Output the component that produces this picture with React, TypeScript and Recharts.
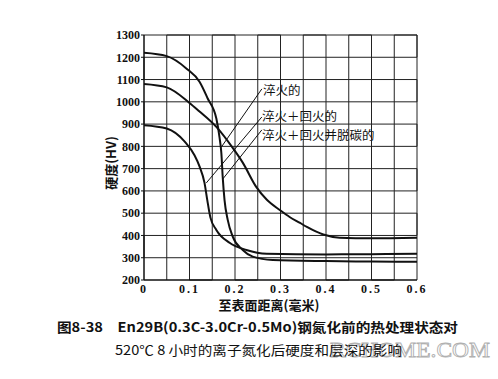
import React from 'react';
import { LineChart, Line, XAxis, YAxis, ReferenceLine } from 'recharts';

// 淬火的
const quenchedX = [0, 0.05, 0.093, 0.122, 0.14, 0.159, 0.166, 0.17, 0.173, 0.177, 0.184, 0.195, 0.217, 0.239, 0.283, 0.4, 0.5, 0.6];
const quenchedY = [1220, 1205, 1150, 1090, 1015, 925, 840, 770, 662, 559, 470, 395, 335, 305, 290, 285, 283, 282];
// 淬火+回火的
const temperedX = [0, 0.05, 0.1, 0.12, 0.16, 0.195, 0.217, 0.247, 0.27, 0.3, 0.32, 0.343, 0.358, 0.394, 0.43, 0.5, 0.6];
const temperedY = [1080, 1065, 995, 960, 885, 793, 727, 617, 560, 512, 483, 456, 438, 404, 390, 387, 390];
// 淬火+回火并脱碳的
const decarbX = [0, 0.05, 0.09, 0.111, 0.122, 0.133, 0.139, 0.146, 0.159, 0.188, 0.225, 0.27, 0.4, 0.5, 0.6];
const decarbY = [895, 880, 820, 760, 710, 636, 560, 480, 425, 367, 335, 318, 315, 316, 318];

const xTicks = [0, 0.1, 0.2, 0.3, 0.4, 0.5, 0.6];
const xGrid = [0.05, 0.1, 0.15, 0.2, 0.25, 0.3, 0.35, 0.4, 0.45, 0.5, 0.55, 0.6];
const yTicks = [200, 300, 400, 500, 600, 700, 800, 900, 1000, 1100, 1200, 1300];
const yGrid = [1300, 1200, 1100, 1000, 900, 800, 700, 600, 500, 400, 300];

const seriesLabels = ['淬火的', '淬火＋回火的', '淬火＋回火并脱碳的'];
// leader lines: [label end, curve end] in data units
const leaderFrom = [[0.259, 1058], [0.259, 932], [0.259, 874]];
const leaderTo = [[0.170, 797], [0.137, 636], [0.173, 653]];

const toPts = (xs: number[], ys: number[]) => xs.map((x, i) => ({ x, y: ys[i] }));

// grid drawn as two serpentine paths (joins run along the frame)
const buildHGrid = () => {
  const pts: { x: number; y: number }[] = [];
  yGrid.forEach((v, i) => {
    if (i % 2 === 0) pts.push({ x: 0, y: v }, { x: 0.6, y: v });
    else pts.push({ x: 0.6, y: v }, { x: 0, y: v });
  });
  return pts;
};
const buildVGrid = () => {
  const pts: { x: number; y: number }[] = [];
  xGrid.forEach((v, i) => {
    if (i % 2 === 0) pts.push({ x: v, y: 200 }, { x: v, y: 1300 });
    else pts.push({ x: v, y: 1300 }, { x: v, y: 200 });
  });
  return pts;
};

const serif = "'Liberation Serif', 'DejaVu Serif', 'Noto Sans CJK SC', serif";
const cjk = "'Noto Sans CJK SC', 'Liberation Serif', serif";

export default function App() {
  const series = [toPts(quenchedX, quenchedY), toPts(temperedX, temperedY), toPts(decarbX, decarbY)];
  const grids = [buildHGrid(), buildVGrid()];
  return (
    <div style={{ position: 'absolute', left: 0, top: 0, width: 498, height: 379, background: '#fff' }}>
      <LineChart width={498} height={379} margin={{ top: 35, right: 81, bottom: 79, left: 99 }}>
        <XAxis
          type="number"
          dataKey="x"
          domain={[0, 0.6]}
          ticks={xTicks}
          height={20}
          axisLine={{ stroke: '#111', strokeWidth: 1.5 }}
          tickLine={false}
          tickSize={0}
          tickMargin={4}
          tick={{ fill: '#111', fontSize: 12, fontFamily: serif, fontWeight: 'bold', letterSpacing: 2 }}
          tickFormatter={(v: number) => (v === 0 ? '0' : v.toFixed(1))}
        />
        <YAxis
          type="number"
          dataKey="y"
          domain={[200, 1300]}
          ticks={yTicks}
          width={45}
          axisLine={{ stroke: '#111', strokeWidth: 1.5 }}
          tickLine={{ stroke: '#111' }}
          tickSize={3}
          tickMargin={1}
          tick={{ fill: '#111', fontSize: 12, fontFamily: serif, fontWeight: 'bold' }}
        />
        {grids.map((d, i) => (
          <Line
            key={'g' + i}
            data={d}
            dataKey="y"
            type="linear"
            stroke="#222"
            strokeWidth={1}
            dot={false}
            activeDot={false}
            isAnimationActive={false}
          />
        ))}
        {series.map((d, i) => (
          <Line
            key={'c' + i}
            data={d}
            dataKey="y"
            type="monotone"
            stroke="#111"
            strokeWidth={2}
            dot={false}
            activeDot={false}
            isAnimationActive={false}
          />
        ))}
        {leaderFrom.map((f, i) => (
          <ReferenceLine
            key={'l' + i}
            segment={[{ x: f[0], y: f[1] }, { x: leaderTo[i][0], y: leaderTo[i][1] }]}
            stroke="#111"
            strokeWidth={1}
          />
        ))}
        <g>
          <rect x={261} y={84} width={45} height={13} fill="#fff" />
          <rect x={261} y={111} width={82} height={11} fill="#fff" />
          <rect x={261} y={129} width={112} height={13} fill="#fff" />
          <text x={263} y={95} fontSize={12.5} fontFamily={cjk} fill="#111">{seriesLabels[0]}</text>
          <text x={262} y={121} fontSize={12.5} fontFamily={cjk} fill="#111">{seriesLabels[1]}</text>
          <text x={262} y={140} fontSize={12.5} fontFamily={cjk} fill="#111">{seriesLabels[2]}</text>
          <text
            x={0}
            y={0}
            transform="translate(110,163) rotate(-90)"
            textAnchor="middle"
            dominantBaseline="central"
            fontSize={13}
            fontWeight="bold"
            fontFamily={cjk}
            fill="#111"
          >
            硬度(HV)
          </text>
          <text x={269} y={310} textAnchor="middle" fontSize={13} fontWeight="bold" fontFamily={cjk} fill="#111">
            至表面距离(毫米)
          </text>
          <text x={330} y={357} fontSize={20} fontFamily={serif} fill="none" stroke="#b0b0b0" strokeWidth={0.8} textLength={160} lengthAdjust="spacingAndGlyphs">
            RCHOME.COM
          </text>
          <text x={57} y={332} fontSize={13} fontWeight="bold" fontFamily={cjk} fill="#111" textLength={401} lengthAdjust="spacingAndGlyphs">
            图8-38　En29B(0.3C-3.0Cr-0.5Mo)钢氮化前的热处理状态对
          </text>
          <text x={115} y={355} fontSize={13} fontFamily={cjk} fill="#111" textLength={287} lengthAdjust="spacingAndGlyphs">
            520℃ 8 小时的离子氮化后硬度和层深的影响
          </text>
        </g>
      </LineChart>
    </div>
  );
}
